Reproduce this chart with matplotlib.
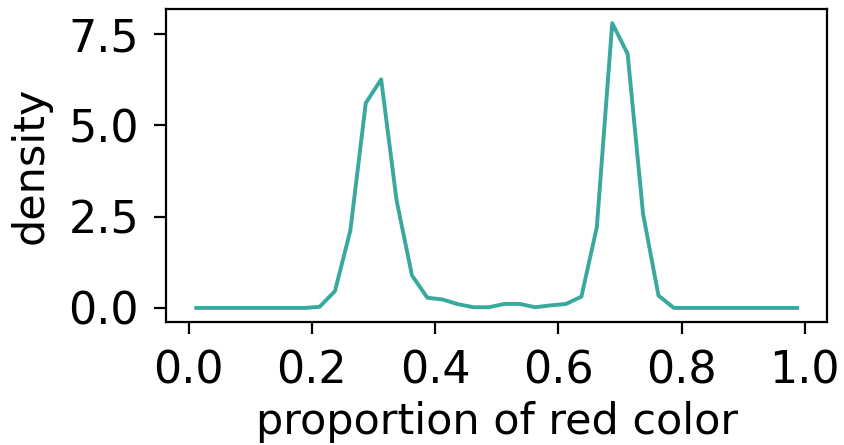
import numpy as np
import matplotlib
matplotlib.use("Agg")
import matplotlib.pyplot as plt

# 40 histogram bins on [0, 1], density
bin_centers = np.arange(40) * 0.025 + 0.0125
density = [0, 0, 0, 0, 0, 0, 0, 0,
           0.03, 0.46, 2.12, 5.61, 6.26, 2.95, 0.89, 0.28,
           0.23, 0.10, 0.02, 0.02, 0.11, 0.11, 0.02, 0.07,
           0.11, 0.31, 2.21, 7.80, 6.96, 2.58, 0.34, 0,
           0, 0, 0, 0, 0, 0, 0, 0]

plt.rcParams['font.size'] = 16

fig, ax = plt.subplots(figsize=(4.22, 2.225), dpi=200)
ax.plot(bin_centers, density, c='#38a99c', lw=1.4)
ax.set_xlabel("proportion of red color", fontsize=15.5, labelpad=3)
ax.set_ylabel("density", fontsize=15.5, labelpad=6)
ax.set_xticks([0.0, 0.2, 0.4, 0.6, 0.8, 1.0])
ax.set_yticks([0.0, 2.5, 5.0, 7.5])
ax.tick_params(length=4.3, pad=5.5, width=0.8)
fig.subplots_adjust(left=0.197, right=0.98, bottom=0.276, top=0.98)
fig.savefig("out.png", dpi=200)
